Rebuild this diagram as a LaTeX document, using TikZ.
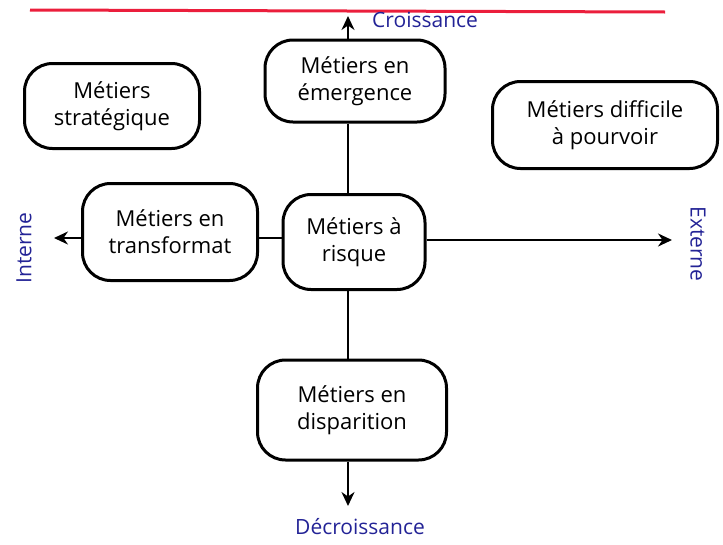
\documentclass[tikz,border=0pt]{standalone}
\usepackage{fontspec}
\setmainfont{Open Sans}
\usetikzlibrary{arrows.meta}
\definecolor{inkblue}{RGB}{35,35,150}
\definecolor{inkred}{RGB}{235,30,60}
\begin{document}
\begin{tikzpicture}[x=1pt,y=-1pt,
	metier/.style={draw=black,line width=3pt,rounded corners=28pt,align=center,font=\fontsize{22}{27}\selectfont,inner sep=2pt},
	axe/.style={line width=2.6pt,-{Stealth[length=14pt,width=13pt]}},
	lien/.style={line width=2.6pt},
	sens/.style={text=inkblue,font=\fontsize{21}{25}\selectfont,inner sep=0pt}]
	\useasboundingbox (0,0) rectangle (723,544);
	\draw [inkred,line width=3pt] (30,10) -- (665,12);
	\node [metier,minimum width=180pt,minimum height=82pt] (emergence) at (355,81) {Métiers en\\émergence};
	\node [metier,minimum width=175pt,minimum height=85pt] (strategique) at (112,106) {Métiers\\stratégique};
	\node [metier,minimum width=225pt,minimum height=87pt] (difficile) at (605,125) {Métiers difficile\\à pourvoir};
	\node [metier,minimum width=175pt,minimum height=97pt] (transformat) at (170,232) {Métiers en\\transformat};
	\node [metier,minimum width=142pt,minimum height=95pt] (risque) at (354,242) {Métiers à\\risque};
	\node [metier,minimum width=189pt,minimum height=100pt] (disparition) at (352,410) {Métiers en\\disparition};
	\coordinate (haut) at (348,16);
	\coordinate (bas) at (348,506);
	\coordinate (gauche) at (54,238);
	\coordinate (droite) at (672,240);
	\draw [axe] (emergence.north -| haut) -- (haut);
	\draw [lien] (emergence.south -| haut) -- (risque.north -| haut);
	\draw [lien] (risque.south -| haut) -- (disparition.north -| haut);
	\draw [axe] (disparition.south -| bas) -- (bas);
	\draw [axe] (transformat.west |- gauche) -- (gauche);
	\draw [lien] (transformat.east |- gauche) -- (risque.west |- gauche);
	\draw [axe] (risque.east |- droite) -- (droite);
	\node [sens,anchor=west] (croissance) at (372,20) {Croissance};
	\node [sens] (decroissance) at (360,527) {Décroissance};
	\node [sens,rotate=90] (interne) at (24,248) {Interne};
	\node [sens,rotate=-90] (externe) at (698,244) {Externe};
\end{tikzpicture}
\end{document}
